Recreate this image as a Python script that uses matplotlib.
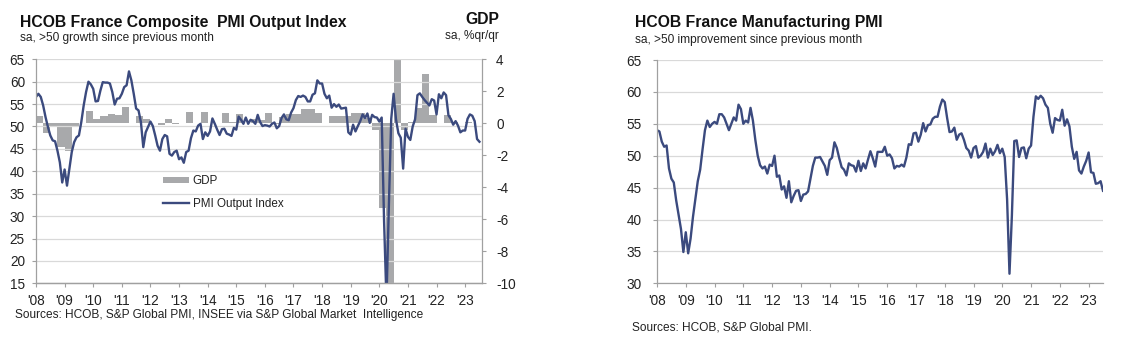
import matplotlib
matplotlib.use("Agg")
import matplotlib.pyplot as plt
from matplotlib.patches import Patch
from matplotlib.lines import Line2D
import numpy as np

plt.rcParams['font.family'] = ['Liberation Sans', 'DejaVu Sans']
plt.rcParams['axes.unicode_minus'] = False

# monthly, Jan 2008 - Jul 2023
comp_pmi = [
    56.6, 57.3, 56.6, 54.7, 52.1, 49.9, 48.0, 46.9, 46.7, 44.6, 42.0, 37.5,  # 2008
    40.4, 36.8, 40.5, 44.3, 46.5, 47.6, 48.0, 51.0, 54.7, 57.7, 60.0, 59.4,  # 2009
    58.4, 55.6, 55.7, 58.0, 59.9, 59.8, 59.8, 59.6, 57.7, 54.9, 56.2, 56.3,  # 2010
    57.3, 58.8, 59.2, 62.3, 60.3, 57.3, 54.0, 53.6, 51.0, 45.4, 48.7, 49.9,  # 2011
    51.1, 50.1, 48.0, 45.7, 44.6, 47.2, 48.1, 47.8, 43.9, 43.5, 44.3, 44.6,  # 2012
    42.7, 43.1, 41.9, 44.3, 44.6, 47.4, 49.1, 48.9, 50.2, 50.6, 47.2, 48.7,  # 2013
    47.9, 48.9, 51.8, 50.6, 49.3, 48.1, 49.4, 49.5, 48.4, 48.2, 47.9, 49.7,  # 2014
    49.3, 52.2, 51.5, 50.6, 52.0, 50.6, 51.5, 51.2, 50.6, 52.6, 51.0, 50.1,  # 2015
    50.3, 50.2, 50.0, 50.6, 50.9, 49.6, 50.1, 51.9, 52.7, 51.6, 51.4, 53.1,  # 2016
    54.1, 55.9, 56.8, 56.6, 56.9, 56.6, 55.6, 55.6, 57.1, 57.4, 60.3, 59.6,  # 2017
    59.6, 57.3, 56.3, 56.9, 54.2, 55.0, 54.4, 54.9, 54.0, 54.1, 54.2, 48.7,  # 2018
    48.2, 50.4, 48.9, 50.1, 51.2, 52.7, 51.9, 52.9, 50.8, 52.6, 52.1, 52.0,  # 2019
    51.1, 52.0, 28.9, 11.1, 32.1, 51.7, 57.3, 51.6, 48.5, 47.5, 40.6, 49.5,  # 2020
    47.7, 47.0, 50.0, 51.6, 57.0, 57.4, 56.6, 55.9, 55.3, 54.7, 56.1, 55.8,  # 2021
    52.7, 57.2, 56.3, 57.6, 57.0, 52.5, 51.7, 50.4, 51.2, 50.2, 48.7, 49.1,  # 2022
    49.1, 51.7, 52.7, 52.4, 51.2, 47.2, 46.6,                                # 2023
]

mfg_pmi = [
    54.0, 53.8, 52.2, 51.4, 51.6, 48.0, 46.4, 45.8, 43.0, 40.8, 38.5, 34.9,  # 2008
    38.0, 34.7, 37.0, 40.4, 43.2, 46.0, 47.8, 51.0, 54.0, 55.5, 54.5, 55.0,  # 2009
    55.3, 55.0, 56.5, 56.5, 56.0, 55.0, 54.0, 55.0, 56.0, 55.5, 58.0, 57.3,  # 2010
    55.0, 55.5, 55.2, 57.5, 55.5, 52.5, 50.0, 48.5, 48.0, 48.3, 47.2, 48.6,  # 2011
    48.4, 50.0, 46.7, 46.9, 44.7, 45.2, 43.4, 46.0, 42.7, 43.7, 44.5, 44.6,  # 2012
    42.9, 43.9, 44.0, 44.4, 46.4, 48.4, 49.7, 49.7, 49.8, 49.1, 48.4, 47.0,  # 2013
    49.3, 49.7, 52.1, 51.2, 49.6, 48.2, 47.8, 46.9, 48.8, 48.5, 48.4, 47.5,  # 2014
    49.2, 47.6, 48.8, 48.0, 49.4, 50.7, 49.6, 48.3, 50.6, 50.6, 50.6, 51.4,  # 2015
    50.0, 50.2, 49.6, 48.0, 48.4, 48.3, 48.6, 48.3, 49.7, 51.8, 51.7, 53.5,  # 2016
    53.6, 52.2, 53.3, 55.1, 53.8, 54.8, 54.9, 55.8, 56.1, 56.1, 57.7, 58.8,  # 2017
    58.4, 55.9, 53.7, 53.8, 54.4, 52.5, 53.3, 53.5, 52.5, 51.2, 50.8, 49.7,  # 2018
    51.2, 51.5, 49.7, 50.0, 50.6, 51.9, 49.7, 51.1, 50.1, 50.7, 51.7, 50.4,  # 2019
    51.1, 49.8, 43.2, 31.5, 40.6, 52.3, 52.4, 49.8, 51.2, 51.3, 49.6, 51.1,  # 2020
    51.6, 56.1, 59.3, 58.9, 59.4, 59.0, 58.0, 57.5, 55.0, 53.6, 55.9, 55.6,  # 2021
    55.5, 57.2, 54.7, 55.7, 54.6, 51.4, 49.5, 50.6, 47.7, 47.2, 48.3, 49.2,  # 2022
    50.5, 47.4, 47.3, 45.6, 45.7, 46.0, 44.5,                                # 2023
]

# quarterly GDP %q/q, 2008Q1 - 2023Q1
gdp_qq = [
    0.48, -0.6, -0.2, -1.5,
    -1.73, -0.2, 0.0, 0.8,
    0.25, 0.45, 0.6, 0.55,
    1.05, 0.0, 0.45, 0.25,
    0.0, -0.1, 0.25, -0.05,
    0.0, 0.73, 0.0, 0.73,
    0.0, 0.0, 0.62, 0.1,
    0.56, 0.05, 0.3, 0.2,
    0.67, -0.05, 0.42, 0.6,
    0.6, 0.87, 0.87, 0.62,
    0.05, 0.45, 0.45, 0.45,
    0.65, 0.65, 0.35, -0.4,
    -5.3, -13.5, 18.5, -0.4,
    0.1, 0.95, 3.1, 0.52,
    0.0, 0.52, 0.1, 0.05,
    0.1,
]

years = list(range(2008, 2024))
year_labels = ["'%02d" % (y % 100) for y in years]

navy = '#3b4a7e'
bar_grey = '#a8a9ab'
grid_c = '#d9d9d9'
spine_c = '#a0a0a0'
txt_c = '#222222'

W, H = 1122, 356
fig = plt.figure(figsize=(W / 100, H / 100), dpi=100)


def box(x0, y0, x1, y1):
    return [x0 / W, 1 - y1 / H, (x1 - x0) / W, (y1 - y0) / H]


def ftext(x, y, s, **kw):
    fig.text(x / W, 1 - y / H, s, color=kw.pop('color', txt_c), **kw)


m_x = 2008 + np.arange(len(comp_pmi)) / 12.0
q_x = 2008 + np.arange(len(gdp_qq)) / 4.0


def style_x(ax):
    ax.set_xticks(years)
    ax.set_xticklabels(year_labels)
    ax.tick_params(axis='x', length=3, width=0.8, color=spine_c, labelsize=9.8,
                   labelcolor=txt_c, pad=5)


# ---- left: composite PMI + GDP
ax = fig.add_axes(box(36, 59.3, 482.3, 283.3))
axg = ax.twinx()
ax.set_zorder(axg.get_zorder() + 1)
ax.patch.set_visible(False)

axg.bar(q_x, gdp_qq, width=0.25, align='edge', color=bar_grey, linewidth=0)
axg.set_ylim(-10, 4)
axg.set_yticks(range(-10, 5, 2))
axg.tick_params(axis='y', length=3, width=0.8, color=spine_c, labelsize=9.8,
                labelcolor=txt_c, pad=7)

ax.plot(m_x, comp_pmi, color=navy, lw=1.7, solid_joinstyle='round')
ax.set_ylim(15, 65)
ax.set_yticks(range(15, 66, 5))
ax.set_xlim(2008, 2023.6)
ax.grid(axis='y', color=grid_c, lw=0.9)
ax.set_axisbelow(True)
ax.tick_params(axis='y', length=3, width=0.8, color=spine_c, labelsize=9.8,
               labelcolor=txt_c, pad=5)
style_x(ax)
for a in (ax, axg):
    a.spines['top'].set_visible(False)
    for s in ('left', 'right', 'bottom'):
        a.spines[s].set_color(spine_c)
        a.spines[s].set_linewidth(0.9)
ax.spines['right'].set_visible(False)
axg.spines['left'].set_visible(False)

handles = [Patch(facecolor=bar_grey, edgecolor='none'),
           Line2D([], [], color=navy, lw=1.7)]
ax.legend(handles, ['GDP', 'PMI Output Index'], loc='upper left',
          bbox_to_anchor=(0.26, 0.53), frameon=False, fontsize=8.4,
          handlelength=2.3, handleheight=0.5, handletextpad=0.3,
          labelspacing=0.95, labelcolor=txt_c)

ftext(20, 22, 'HCOB France Composite  PMI Output Index', fontsize=11.3,
      weight='bold', va='center', color='#111111')
ftext(20, 38, 'sa, >50 growth since previous month', fontsize=8.6, va='center')
ftext(499, 20, 'GDP', fontsize=11.3, weight='bold', va='center', ha='right',
      color='#111111')
ftext(499, 36, 'sa, %qr/qr', fontsize=8.6, va='center', ha='right')
ftext(15, 315, 'Sources: HCOB, S&P Global PMI, INSEE via S&P Global Market  Intelligence',
      fontsize=8.6, va='center')

# ---- right: manufacturing PMI
ax2 = fig.add_axes(box(657, 60, 1103, 283.3))
ax2.plot(m_x, mfg_pmi, color=navy, lw=1.7, solid_joinstyle='round')
ax2.set_ylim(30, 65)
ax2.set_yticks(range(30, 66, 5))
ax2.set_xlim(2008, 2023.5)
ax2.grid(axis='y', color=grid_c, lw=0.9)
ax2.set_axisbelow(True)
ax2.tick_params(axis='y', length=3, width=0.8, color=spine_c, labelsize=9.8,
                labelcolor=txt_c, pad=8)
style_x(ax2)
for s in ('top', 'right'):
    ax2.spines[s].set_visible(False)
for s in ('left', 'bottom'):
    ax2.spines[s].set_color(spine_c)
    ax2.spines[s].set_linewidth(0.9)

ftext(635, 23, 'HCOB France Manufacturing PMI', fontsize=11.3, weight='bold',
      va='center', color='#111111')
ftext(635, 40, 'sa, >50 improvement since previous month', fontsize=8.6,
      va='center')
ftext(632, 328, 'Sources: HCOB, S&P Global PMI.', fontsize=8.6, va='center')

fig.savefig('out.png', dpi=100)
